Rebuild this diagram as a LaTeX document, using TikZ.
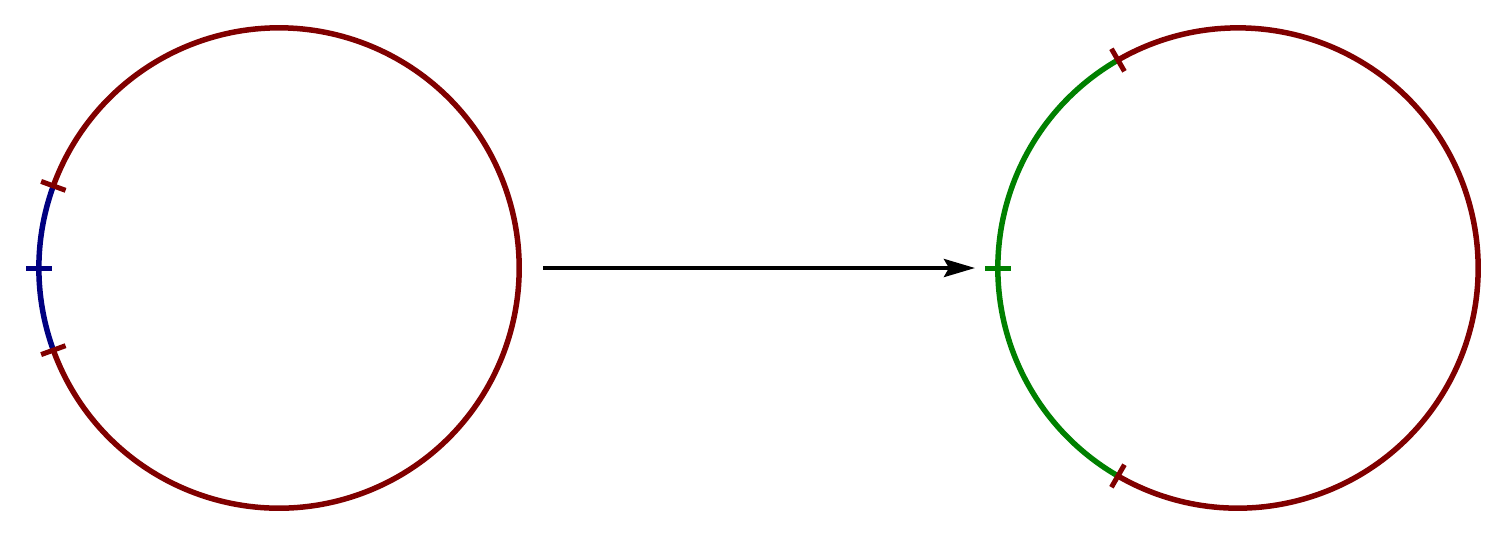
\documentclass[tikz,border=0pt]{standalone}
\usetikzlibrary{arrows.meta}
\definecolor{dred}{RGB}{128,0,0}
\definecolor{dblue}{RGB}{0,0,128}
\definecolor{dgreen}{RGB}{0,128,0}
\tikzset{
  arcline/.style={line width=0.055cm},
  tickline/.style={line width=0.05cm},
  mapline/.style={line width=0.04cm, -{Stealth[length=0.31cm,width=0.18cm,inset=0.05cm]}}
}
\begin{document}
\begin{tikzpicture}[x=0.01cm,y=0.01cm]
\useasboundingbox (0,0) rectangle (1509,541);
\coordinate (L) at (279,273);
\coordinate (R) at (1238,273);
% left circle
\draw[arcline,dred] ([shift={(200:2.4cm)}]L) arc[start angle=200,end angle=520,radius=2.4cm];
\draw[arcline,dblue] ([shift={(160:2.4cm)}]L) arc[start angle=160,end angle=200,radius=2.4cm];
\draw[tickline,dblue] ([shift={(180:2.27cm)}]L) -- ([shift={(180:2.53cm)}]L);
\foreach \a in {160,200}
  \draw[tickline,dred] ([shift={(\a:2.27cm)}]L) -- ([shift={(\a:2.53cm)}]L);
% right circle
\draw[arcline,dred] ([shift={(240:2.4cm)}]R) arc[start angle=240,end angle=480,radius=2.4cm];
\draw[arcline,dgreen] ([shift={(120:2.4cm)}]R) arc[start angle=120,end angle=240,radius=2.4cm];
\draw[tickline,dgreen] ([shift={(180:2.27cm)}]R) -- ([shift={(180:2.53cm)}]R);
\foreach \a in {120,240}
  \draw[tickline,dred] ([shift={(\a:2.27cm)}]R) -- ([shift={(\a:2.53cm)}]R);
% map arrow
\coordinate (A) at (543,273);
\coordinate (B) at (975,273);
\draw[mapline] (A) -- (B);
\end{tikzpicture}
\end{document}
